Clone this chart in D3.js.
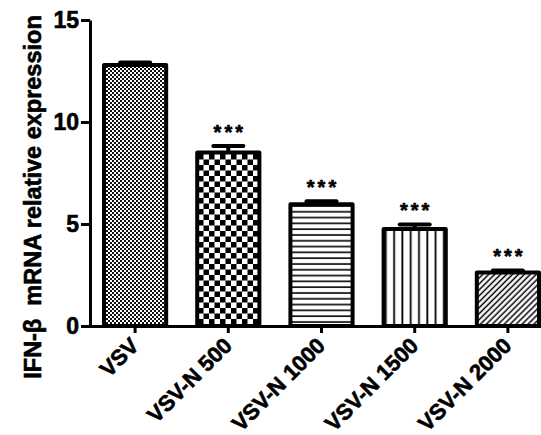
<!DOCTYPE html>
<meta charset="utf-8">
<script src="https://d3js.org/d3.v7.min.js"></script>
<style>
  body { margin: 0; background: #fff; }
  text { font-family: "Liberation Sans", Arial, sans-serif; font-weight: bold;
         stroke: #000; stroke-width: 0.6px; fill: #000; }
</style>
<div id="chart"></div>
<script>

  // data
  var groups = ["VSV", "VSV-N 500", "VSV-N 1000", "VSV-N 1500", "VSV-N 2000"];
  var means = [12.8, 8.5, 5.97, 4.75, 2.62];
  var errors = [0.12, 0.32, 0.14, 0.22, 0.1];
  var stars = ["", "***", "***", "***", "***"];
  var patterns = ["fineCheck", "bigCheck", "hLines", "vLines", "diag"];
  var yTicks = [0, 5, 10, 15];

  var W = 541, H = 435;

  var svg = d3.select("#chart")
    .append("svg")
      .attr("width", W)
      .attr("height", H);

  // fill patterns
  var defs = svg.append("defs");

  var p1 = defs.append("pattern").attr("id", "fineCheck")
    .attr("patternUnits", "userSpaceOnUse").attr("width", 4).attr("height", 4);
  p1.append("rect").attr("width", 4).attr("height", 4).attr("fill", "#fff");
  p1.append("rect").attr("width", 2).attr("height", 2).attr("fill", "#111");
  p1.append("rect").attr("x", 2).attr("y", 2).attr("width", 2).attr("height", 2).attr("fill", "#111");

  var p2 = defs.append("pattern").attr("id", "bigCheck")
    .attr("patternUnits", "userSpaceOnUse").attr("width", 11).attr("height", 11);
  p2.append("rect").attr("width", 11).attr("height", 11).attr("fill", "#fff");
  p2.append("rect").attr("width", 5.5).attr("height", 5.5).attr("fill", "#000");
  p2.append("rect").attr("x", 5.5).attr("y", 5.5).attr("width", 5.5).attr("height", 5.5).attr("fill", "#000");

  var p3 = defs.append("pattern").attr("id", "hLines")
    .attr("patternUnits", "userSpaceOnUse").attr("width", 6).attr("height", 5.8);
  p3.append("rect").attr("width", 6).attr("height", 5.8).attr("fill", "#fff");
  p3.append("line").attr("x1", 0).attr("x2", 6).attr("y1", 3).attr("y2", 3)
    .attr("stroke", "#000").attr("stroke-width", 1.6);

  var p4 = defs.append("pattern").attr("id", "vLines")
    .attr("patternUnits", "userSpaceOnUse").attr("width", 8.3).attr("height", 8);
  p4.append("rect").attr("width", 8.3).attr("height", 8).attr("fill", "#fff");
  p4.append("line").attr("x1", 4).attr("x2", 4).attr("y1", 0).attr("y2", 8)
    .attr("stroke", "#000").attr("stroke-width", 1.8);

  var p5 = defs.append("pattern").attr("id", "diag")
    .attr("patternUnits", "userSpaceOnUse").attr("width", 4.2).attr("height", 8)
    .attr("patternTransform", "rotate(45)");
  p5.append("rect").attr("width", 4.2).attr("height", 8).attr("fill", "#fff");
  p5.append("line").attr("x1", 2).attr("x2", 2).attr("y1", 0).attr("y2", 8)
    .attr("stroke", "#000").attr("stroke-width", 1.5);

  // scales
  var x = d3.scaleBand()
    .domain(groups)
    .range([88.5, 554.5])
    .paddingInner(0.29)
    .paddingOuter(0.145);

  var y = d3.scaleLinear()
    .domain([0, 15])
    .range([326, 20]);

  var rows = groups.map(function(g, i) {
    return {name: g, mean: means[i], err: errors[i], star: stars[i], pat: patterns[i]};
  });

  // bars
  svg.selectAll("rect.bar")
    .data(rows)
    .enter()
    .append("rect")
      .attr("class", "bar")
      .attr("x", function(d) { return x(d.name) + 2; })
      .attr("width", x.bandwidth() - 4)
      .attr("y", function(d) { return y(d.mean); })
      .attr("height", function(d) { return y(0) - y(d.mean); })
      .attr("fill", function(d) { return "url(#" + d.pat + ")"; })
      .attr("stroke", "#000")
      .attr("stroke-width", 4)
      .attr("stroke-linejoin", "round");

  // error bars
  var eb = svg.selectAll("g.err")
    .data(rows)
    .enter()
    .append("g")
      .attr("class", "err");
  eb.append("line")
    .attr("x1", function(d) { return x(d.name) + x.bandwidth() / 2; })
    .attr("x2", function(d) { return x(d.name) + x.bandwidth() / 2; })
    .attr("y1", function(d) { return y(d.mean); })
    .attr("y2", function(d) { return y(d.mean + d.err); })
    .attr("stroke", "#000").attr("stroke-width", 4);
  eb.append("line")
    .attr("x1", function(d) { return x(d.name) + x.bandwidth() / 2 - 15; })
    .attr("x2", function(d) { return x(d.name) + x.bandwidth() / 2 + 15; })
    .attr("y1", function(d) { return y(d.mean + d.err); })
    .attr("y2", function(d) { return y(d.mean + d.err); })
    .attr("stroke", "#000").attr("stroke-width", 4).attr("stroke-linecap", "round");

  // significance stars
  svg.selectAll("text.star")
    .data(rows)
    .enter()
    .append("text")
      .attr("class", "star")
      .attr("x", function(d) { return x(d.name) + x.bandwidth() / 2 + 1.5; })
      .attr("y", function(d) { return y(d.mean + d.err) - 7.5; })
      .attr("text-anchor", "middle")
      .style("font-size", "20px")
      .style("letter-spacing", "3px")
      .text(function(d) { return d.star; });

  // y axis
  var yAxis = svg.append("g")
    .attr("transform", "translate(90,0)")
    .call(d3.axisLeft(y).tickValues(yTicks).tickSize(9).tickPadding(2).tickSizeOuter(0));
  yAxis.selectAll("path, line").attr("stroke", "#000").attr("stroke-width", 3);
  yAxis.selectAll("text").style("font-size", "23px").attr("fill", "#000")
    .attr("font-family", null);

  // x axis
  var xAxis = svg.append("g")
    .attr("transform", "translate(0,326)")
    .call(d3.axisBottom(x).tickSize(7).tickSizeOuter(0).tickFormat(""));
  xAxis.selectAll("path, line").attr("stroke", "#000").attr("stroke-width", 3);

  // rotated category labels
  svg.selectAll("text.cat")
    .data(groups)
    .enter()
    .append("text")
      .attr("class", "cat")
      .attr("text-anchor", "end")
      .attr("transform", function(d) {
        return "translate(" + (x(d) + x.bandwidth() / 2 + 5) + ",347) rotate(-45)";
      })
      .style("font-size", "22px")
      .text(function(d) { return d; });

  // y axis title
  svg.append("text")
    .attr("text-anchor", "middle")
    .attr("transform", "translate(41,197) rotate(-90)")
    .style("font-size", "23.5px")
    .style("white-space", "pre")
    .text("IFN-\u03b2  mRNA relative expression");

</script>
